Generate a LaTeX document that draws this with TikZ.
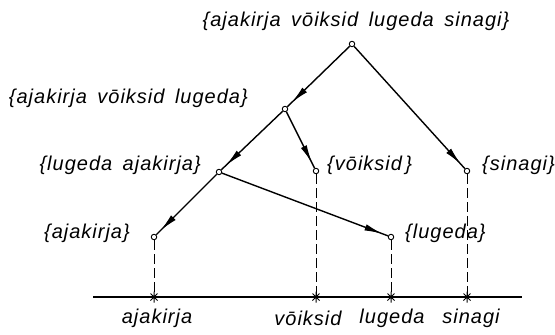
\documentclass[tikz,border=0pt]{standalone}
\usepackage{fontspec}
\setmainfont{Liberation Sans}[LetterSpace=5,WordSpace=1.6]
\usetikzlibrary{arrows.meta,decorations.markings}
\tikzset{
  vert/.style={circle,draw,fill=white,inner sep=0pt,minimum size=5.5pt,line width=0.9pt},
  lbl/.style={font=\fontsize{20}{24}\selectfont\itshape,inner sep=0pt},
  edge/.style={line width=1.4pt,postaction={decorate},
    decoration={markings,mark=at position -6pt with {\arrow{Latex[length=18pt,width=6.5pt]}}}},
  proj/.style={line width=0.8pt,dash pattern=on 10pt off 4pt},
  axis/.style={line width=1.3pt},
  asterisk/.pic={\draw[line width=1pt] (-3.5,-3.5)--(3.5,3.5) (-3.5,3.5)--(3.5,-3.5) (0,-5.5)--(0,5.5);}
}
\begin{document}
\begin{tikzpicture}[x=1pt,y=-1pt]
\useasboundingbox (0,0) rectangle (555,335);
% vertices
\node[vert] (r) at (352,44) {};
\node[vert] (n1) at (285,109) {};
\node[vert] (n2) at (219,172) {};
\node[vert] (v) at (316,171) {};
\node[vert] (s) at (467,171) {};
\node[vert] (a) at (154,237) {};
\node[vert] (l) at (391,237) {};
% labels
\node[lbl] (tr) at (356,21) {\{ajakirja vōiksid lugeda sinagi\}};
\node[lbl,anchor=mid east] (tn1) at (248,101) {\{ajakirja vōiksid lugeda\}};
\node[lbl,anchor=mid east] (tn2) at (201,168) {\{lugeda ajakirja\}};
\node[lbl,anchor=mid west] (tv) at (327,168) {\{vōiksid\,\}};
\node[lbl,anchor=mid west] (ts) at (482,168) {\{sinagi\}};
\node[lbl,anchor=mid east] (ta) at (130,236) {\{ajakirja\}};
\node[lbl,anchor=mid west] (tl) at (405,236) {\{lugeda\}};
% axis
\coordinate (axL) at (93,297);
\coordinate (axR) at (522,297);
\coordinate (pa) at (154,297);
\coordinate (pv) at (316,297);
\coordinate (pl) at (391,297);
\coordinate (ps) at (467,297);
\draw[axis] (axL) -- (axR);
\draw[proj] (a) -- (pa);
\draw[proj] (v) -- (pv);
\draw[proj] (l) -- (pl);
\draw[proj] (s) -- (ps);
\pic at (pa) {asterisk};
\pic at (pv) {asterisk};
\pic at (pl) {asterisk};
\pic at (ps) {asterisk};
\node[lbl] (wa) at (157,318) {ajakirja};
\node[lbl] (wv) at (308,318) {vōiksid};
\node[lbl] (wl) at (392,318) {lugeda};
\node[lbl] (ws) at (471,318) {sinagi};
% edges
\draw[edge] (r) -- (n1);
\draw[edge] (r) -- (s);
\draw[edge] (n1) -- (n2);
\draw[edge] (n1) -- (v);
\draw[edge] (n2) -- (a);
\draw[edge] (n2) -- (l);
\end{tikzpicture}
\end{document}
